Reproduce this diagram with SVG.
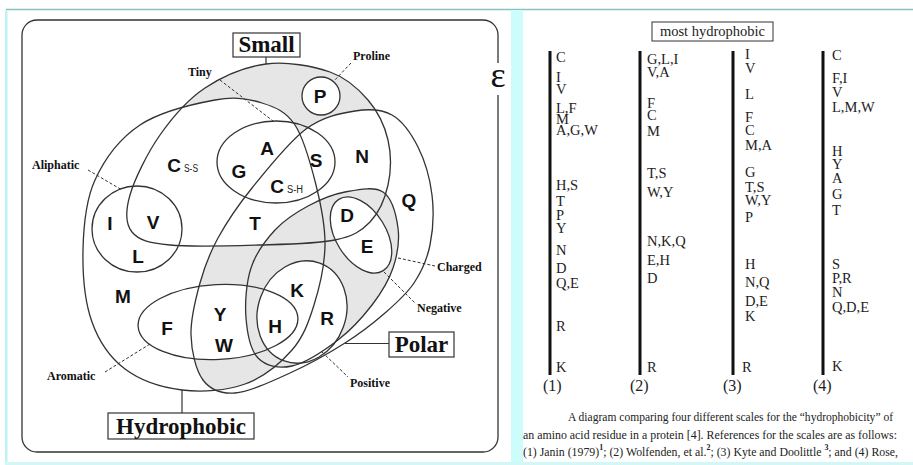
<svg xmlns="http://www.w3.org/2000/svg" xmlns:xlink="http://www.w3.org/1999/xlink" width="913" height="465" viewBox="0 0 913 465">
<style>
.ln{fill:none;stroke:#333;stroke-width:1.3}
.dash{fill:none;stroke:#333;stroke-width:1;stroke-dasharray:3 2}
.solid{fill:none;stroke:#333;stroke-width:1.2}
.box{fill:#fff;stroke:#333;stroke-width:1.2}
.aa{font-family:"Liberation Sans",Arial,sans-serif;font-weight:bold;font-size:19px;text-anchor:middle;fill:#111}
.sub{font-family:"Liberation Sans",Arial,sans-serif;font-size:10px;fill:#222}
.lbl{font-family:"Liberation Serif","Times New Roman",serif;font-weight:bold;font-size:12px;fill:#111}
.big{font-family:"Liberation Serif","Times New Roman",serif;font-weight:bold;font-size:23px;text-anchor:middle;fill:#111}
.col{font-family:"Liberation Serif","Times New Roman",serif;font-size:14.5px;fill:#222}
.num{font-family:"Liberation Serif","Times New Roman",serif;font-size:16px;fill:#222}
.cap{font-family:"Liberation Serif","Times New Roman",serif;font-size:11.9px;fill:#222}
.bar{stroke:#111;stroke-width:3}
.gray{fill:#e6e6e6}
</style>
<defs>
<path id="sml" d="M 266,64 C 286.8,61.3 313,66 330,72 C 347,78 358.3,88.7 368,100 C 377.7,111.3 384.7,125.8 388,140 C 391.3,154.2 391,171.3 388,185 C 385,198.7 378.8,212.8 370,222 C 361.2,231.2 353.3,236.2 335,240 C 316.7,243.8 287.5,244.2 260,245 C 232.5,245.8 191.3,247.2 170,245 C 148.7,242.8 138.7,240.3 132,232 C 125.3,223.7 125.3,211.2 130,195 C 134.7,178.8 147.5,152.8 160,135 C 172.5,117.2 187.3,99.8 205,88 C 222.7,76.2 245.2,66.7 266,64 Z"/>
<path id="hyd" d="M 215,100 C 235.3,96.3 248.7,98.8 262,103 C 275.3,107.2 286,111.3 295,125 C 304,138.7 311,165 316,185 C 321,205 325.3,225 325,245 C 324.7,265 319.5,287.5 314,305 C 308.5,322.5 303.5,336.8 292,350 C 280.5,363.2 263.3,377.3 245,384 C 226.7,390.7 202,392.5 182,390 C 162,387.5 140,380.3 125,369 C 110,357.7 99,341.8 92,322 C 85,302.2 82.5,273.7 83,250 C 83.5,226.3 85.5,200.8 95,180 C 104.5,159.2 120,138.3 140,125 C 160,111.7 194.7,103.7 215,100 Z"/>
<path id="pol" d="M 355,111 C 369.3,108.7 381.5,109 392,115 C 402.5,121 411.3,133.7 418,147 C 424.7,160.3 430,178.7 432,195 C 434,211.3 433,230.3 430,245 C 427,259.7 421.5,271.7 414,283 C 406.5,294.3 396.5,303 385,313 C 373.5,323 360.8,333 345,343 C 329.2,353 308.3,364.7 290,373 C 271.7,381.3 249.5,391.8 235,393 C 220.5,394.2 210.3,389.7 203,380 C 195.7,370.3 191.5,351.2 191,335 C 190.5,318.8 195.5,299.2 200,283 C 204.5,266.8 209.3,253.8 218,238 C 226.7,222.2 237.3,206.2 252,188 C 266.7,169.8 288.8,141.8 306,129 C 323.2,116.2 340.7,113.3 355,111 Z"/>
<path id="chg" d="M 345,192 C 357.5,189.7 374.2,186 383,192 C 391.8,198 396.3,215.3 398,228 C 399.7,240.7 397.3,255.2 393,268 C 388.7,280.8 381.2,293 372,305 C 362.8,317 351.3,329.8 338,340 C 324.7,350.2 305.3,363 292,366 C 278.7,369 265.7,366 258,358 C 250.3,350 247.2,333 246,318 C 244.8,303 246.2,282.7 251,268 C 255.8,253.3 265.5,240.3 275,230 C 284.5,219.7 296.3,212.3 308,206 C 319.7,199.7 332.5,194.3 345,192 Z"/>
<ellipse id="tny" cx="276" cy="162" rx="59" ry="41"/>
<ellipse id="ali" cx="137" cy="229" rx="45" ry="43"/>
<ellipse id="aro" cx="218" cy="322" rx="80" ry="37.5" transform="rotate(-3 218 322)"/>
<ellipse id="pos" cx="302" cy="312" rx="44" ry="52" transform="rotate(20 302 312)"/>
<ellipse id="neg" cx="361" cy="235" rx="42" ry="25" transform="rotate(58 361 235)"/>
<circle id="pro" cx="321" cy="96" r="19"/>
<mask id="mA" maskUnits="userSpaceOnUse" x="0" y="0" width="913" height="465">
<use xlink:href="#sml" fill="#fff"/><use xlink:href="#hyd" fill="#000"/><use xlink:href="#pol" fill="#000"/><use xlink:href="#pro" fill="#000"/>
</mask>
<clipPath id="cH"><use xlink:href="#hyd"/></clipPath>
<mask id="mB" maskUnits="userSpaceOnUse" x="0" y="0" width="913" height="465">
<use xlink:href="#pol" fill="#fff"/><use xlink:href="#sml" fill="#000"/><use xlink:href="#aro" fill="#000"/><use xlink:href="#chg" fill="#000"/>
</mask>
<mask id="mC" maskUnits="userSpaceOnUse" x="0" y="0" width="913" height="465">
<use xlink:href="#chg" fill="#fff"/><use xlink:href="#pos" fill="#000"/><use xlink:href="#neg" fill="#000"/>
</mask>
</defs>

<rect x="0" y="0" width="913" height="465" fill="#fff"/>
<g id="frame">
<line x1="6" y1="9.5" x2="913" y2="9.5" stroke="#86c2c2" stroke-width="1.5"/>
<rect x="5" y="10" width="2.5" height="455" fill="#bff3f3"/>
<rect x="511" y="10" width="12" height="455" fill="#ccfcfc"/>
<rect x="5" y="462" width="908" height="3" fill="#d2f7f7"/>
</g>

<g id="gray-regions">
<rect class="gray" x="0" y="0" width="913" height="465" mask="url(#mA)"/>
<g clip-path="url(#cH)"><rect class="gray" x="0" y="0" width="913" height="465" mask="url(#mB)"/></g>
<rect class="gray" x="0" y="0" width="913" height="465" mask="url(#mC)"/>
</g>

<g id="universe">
<path class="ln" d="M 498,63 V 35 A 15 15 0 0 0 483 20 H 37 A 15 15 0 0 0 22 35 V 437 A 15 15 0 0 0 37 452 H 483 A 15 15 0 0 0 498 437 V 95"/>
<text x="498" y="87" font-family="Liberation Serif, Times New Roman, serif" font-size="36" text-anchor="middle" fill="#111">ε</text>
</g>

<g id="hydrophobic"><use xlink:href="#hyd" class="ln"/>
<rect class="box" x="108" y="413" width="146" height="26"/>
<text class="big" x="181" y="434" font-size="22.5">Hydrophobic</text></g>
<g id="small"><use xlink:href="#sml" class="ln"/>
<rect class="box" x="233" y="33" width="67" height="24"/>
<text class="big" x="266.5" y="52">Small</text></g>
<g id="polar"><use xlink:href="#pol" class="ln"/>
<rect class="box" x="389" y="332" width="65" height="25"/>
<text class="big" x="421.5" y="352" font-size="22.5">Polar</text></g>
<g id="tiny"><use xlink:href="#tny" class="ln"/><text class="lbl" x="188" y="76">Tiny</text></g>
<g id="proline"><use xlink:href="#pro" class="ln"/><text class="lbl" x="353" y="60">Proline</text></g>
<g id="aliphatic"><use xlink:href="#ali" class="ln"/><text class="lbl" x="32" y="169">Aliphatic</text></g>
<g id="aromatic"><use xlink:href="#aro" class="ln"/><text class="lbl" x="47" y="380">Aromatic</text></g>
<g id="charged"><use xlink:href="#chg" class="ln"/><text class="lbl" x="437" y="271">Charged</text></g>
<g id="positive"><use xlink:href="#pos" class="ln"/><text class="lbl" x="350" y="387">Positive</text></g>
<g id="negative"><use xlink:href="#neg" class="ln"/><text class="lbl" x="417" y="312">Negative</text></g>

<g id="connectors">
<line class="solid" x1="266" y1="57" x2="266" y2="64"/>
<line class="solid" x1="182" y1="390" x2="182" y2="413"/>
<line class="solid" x1="345" y1="343.5" x2="389" y2="343.5"/>
<line class="dash" x1="220" y1="80" x2="273" y2="121"/>
<line class="dash" x1="351" y1="63" x2="333" y2="82"/>
<line class="dash" x1="88" y1="170" x2="122" y2="190"/>
<line class="dash" x1="105" y1="372" x2="150" y2="344"/>
<line class="dash" x1="398" y1="258" x2="435" y2="266"/>
<line class="dash" x1="384" y1="272" x2="415" y2="303"/>
<line class="dash" x1="322" y1="352" x2="348" y2="377"/>
</g>

<g id="residues">
<text class="aa" x="320" y="103">P</text>
<text class="aa" x="267" y="155">A</text>
<text class="aa" x="316" y="167">S</text>
<text class="aa" x="362" y="163">N</text>
<text class="aa" x="239" y="178">G</text>
<text class="aa" x="174" y="172">C</text><text class="sub" x="184" y="172" textLength="14" lengthAdjust="spacingAndGlyphs">S-S</text>
<text class="aa" x="277" y="193">C</text><text class="sub" x="287" y="193" textLength="16" lengthAdjust="spacingAndGlyphs">S-H</text>
<text class="aa" x="110" y="230">I</text>
<text class="aa" x="153" y="229">V</text>
<text class="aa" x="255" y="230">T</text>
<text class="aa" x="347" y="222">D</text>
<text class="aa" x="409" y="207">Q</text>
<text class="aa" x="367" y="253">E</text>
<text class="aa" x="138" y="263">L</text>
<text class="aa" x="123" y="303">M</text>
<text class="aa" x="167" y="335">F</text>
<text class="aa" x="220" y="321">Y</text>
<text class="aa" x="224" y="352">W</text>
<text class="aa" x="275" y="333">H</text>
<text class="aa" x="297" y="297">K</text>
<text class="aa" x="327" y="325">R</text>
</g>

<g id="scales">
<g id="header">
<rect x="652" y="22" width="121" height="19" fill="#fff" stroke="#333" stroke-width="1"/>
<text class="col" x="712.5" y="36" text-anchor="middle" font-size="15">most hydrophobic</text>
</g>
<g id="scale1">
<line class="bar" x1="550" y1="51" x2="550" y2="375"/>
<text class="col"><tspan x="556" y="62">C</tspan><tspan x="556" y="82">I</tspan><tspan x="556" y="94">V</tspan><tspan x="556" y="113">L,F</tspan><tspan x="556" y="124">M</tspan><tspan x="556" y="135">A,G,W</tspan><tspan x="556" y="190">H,S</tspan><tspan x="556" y="206">T</tspan><tspan x="556" y="220">P</tspan><tspan x="556" y="233">Y</tspan><tspan x="556" y="255">N</tspan><tspan x="556" y="273">D</tspan><tspan x="556" y="288">Q,E</tspan><tspan x="556" y="331">R</tspan><tspan x="556" y="372">K</tspan></text>
<text class="num" x="543" y="391">(1)</text>
</g>
<g id="scale2">
<line class="bar" x1="640" y1="51" x2="640" y2="375"/>
<text class="col"><tspan x="647" y="64">G,L,I</tspan><tspan x="647" y="77">V,A</tspan><tspan x="647" y="108">F</tspan><tspan x="647" y="120">C</tspan><tspan x="647" y="136">M</tspan><tspan x="647" y="178">T,S</tspan><tspan x="647" y="197">W,Y</tspan><tspan x="647" y="246">N,K,Q</tspan><tspan x="647" y="265">E,H</tspan><tspan x="647" y="283">D</tspan><tspan x="647" y="372">R</tspan></text>
<text class="num" x="630" y="391">(2)</text>
</g>
<g id="scale3">
<line class="bar" x1="733" y1="51" x2="733" y2="375"/>
<text class="col"><tspan x="745" y="59">I</tspan><tspan x="745" y="73">V</tspan><tspan x="745" y="99">L</tspan><tspan x="745" y="122">F</tspan><tspan x="745" y="135">C</tspan><tspan x="745" y="150">M,A</tspan><tspan x="745" y="177">G</tspan><tspan x="745" y="192">T,S</tspan><tspan x="745" y="205">W,Y</tspan><tspan x="745" y="222">P</tspan><tspan x="745" y="269">H</tspan><tspan x="745" y="287">N,Q</tspan><tspan x="745" y="306">D,E</tspan><tspan x="745" y="321">K</tspan><tspan x="742" y="372">R</tspan></text>
<text class="num" x="723" y="391">(3)</text>
</g>
<g id="scale4">
<line class="bar" x1="823" y1="51" x2="823" y2="375"/>
<text class="col"><tspan x="832" y="60">C</tspan><tspan x="832" y="83">F,I</tspan><tspan x="832" y="97">V</tspan><tspan x="832" y="112">L,M,W</tspan><tspan x="832" y="156">H</tspan><tspan x="832" y="169">Y</tspan><tspan x="832" y="183">A</tspan><tspan x="832" y="199">G</tspan><tspan x="832" y="215">T</tspan><tspan x="832" y="269">S</tspan><tspan x="832" y="283">P,R</tspan><tspan x="832" y="297">N</tspan><tspan x="832" y="312">Q,D,E</tspan><tspan x="832" y="371">K</tspan></text>
<text class="num" x="813" y="391">(4)</text>
</g>
</g>

<g id="caption">
<text class="cap" x="568" y="421" textLength="325" lengthAdjust="spacingAndGlyphs">A diagram comparing four different scales for the “hydrophobicity” of</text>
<text class="cap" x="523" y="439" textLength="374" lengthAdjust="spacingAndGlyphs">an amino acid residue in a protein [4]. References for the scales are as follows:</text>
<text class="cap" x="523" y="456" textLength="375" lengthAdjust="spacingAndGlyphs">(1) Janin (1979)<tspan dy="-6" font-size="8" font-weight="bold">1</tspan><tspan dy="6">; (2) Wolfenden, et al.</tspan><tspan dy="-6" font-size="8" font-weight="bold">2</tspan><tspan dy="6">; (3) Kyte and Doolittle </tspan><tspan dy="-6" font-size="8" font-weight="bold">3</tspan><tspan dy="6">; and (4) Rose,</tspan></text>
</g>
</svg>
